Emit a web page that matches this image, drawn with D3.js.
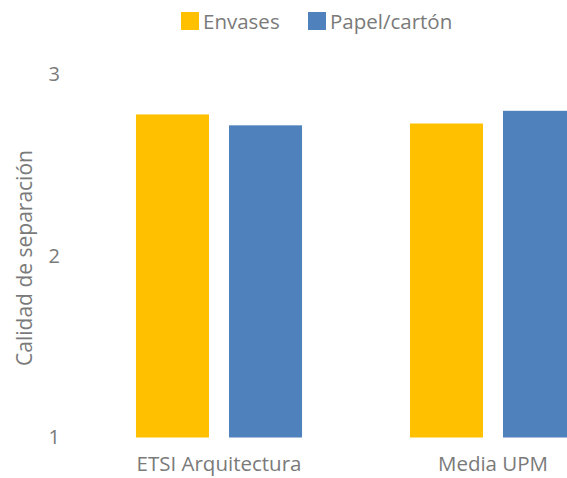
<!DOCTYPE html>
<html>
<head>
<meta charset="utf-8">
<script src="https://cdn.jsdelivr.net/npm/d3@7"></script>
<style>
  body { margin: 0; background: #fff; }
  svg { display: block; font-family: "Open Sans", sans-serif; }
</style>
</head>
<body>
<div id="chart"></div>
<script>
// data
const categories = ['ETSI Arquitectura', 'Media UPM'];
const series = ['Envases', 'Papel/cartón'];
const envases = [2.78, 2.73];
const papel = [2.72, 2.80];
const yTicks = [1, 2, 3];

const colors = ['#FFC000', '#4F81BD'];
const textColor = '#7a7a7a';

const width = 567, height = 478;

// plot area runs past the right edge, as in the reference
const x0 = d3.scaleBand()
    .domain(categories)
    .range([82, 630]);

const x1 = d3.scaleBand()
    .domain(series)
    .range([0, x0.bandwidth()])
    .paddingInner(0.215)
    .paddingOuter(0.58);

const y = d3.scaleLinear()
    .domain([1, 3])
    .range([437.5, 74.5]);

const svg = d3.select('#chart').append('svg')
    .attr('width', width)
    .attr('height', height);

// bars
const rows = categories.map((c, i) => ({ cat: c, values: [envases[i], papel[i]] }));

const groups = svg.selectAll('.cat')
    .data(rows)
    .enter()
    .append('g')
    .classed('cat', true)
    .attr('transform', d => `translate(${x0(d.cat)},0)`);

groups.selectAll('rect')
    .data(d => d.values.map((v, j) => ({ s: series[j], v, j })))
    .enter()
    .append('rect')
    .attr('x', d => x1(d.s))
    .attr('width', x1.bandwidth())
    .attr('y', d => y(d.v))
    .attr('height', d => y(1) - y(d.v))
    .attr('fill', d => colors[d.j]);

// y axis (labels only)
const yAxis = svg.append('g')
    .attr('transform', 'translate(60,0)')
    .call(d3.axisLeft(y).tickValues(yTicks).tickSize(0).tickPadding(0).tickFormat(d3.format('d')));
yAxis.select('.domain').remove();
yAxis.selectAll('text')
    .attr('fill', textColor)
    .style('font-size', '20px')
    .style('font-family', '"Open Sans", sans-serif');

// x axis (labels only)
const xAxis = svg.append('g')
    .attr('transform', `translate(0,${y(1)})`)
    .call(d3.axisBottom(x0).tickSize(0).tickPadding(19));
xAxis.select('.domain').remove();
xAxis.selectAll('text')
    .attr('fill', textColor)
    .style('font-size', '20.5px')
    .style('font-family', '"Open Sans", sans-serif');

// y axis title
svg.append('text')
    .attr('transform', 'translate(32,258) rotate(-90)')
    .attr('text-anchor', 'middle')
    .attr('fill', textColor)
    .style('font-size', '21px')
    .text('Calidad de separación');

// legend
const legendPos = [181, 308];
const legend = svg.selectAll('.legend-item')
    .data(series)
    .enter()
    .append('g')
    .classed('legend-item', true)
    .attr('transform', (d, i) => `translate(${legendPos[i]},12)`);

legend.append('rect')
    .attr('width', 18)
    .attr('height', 18)
    .attr('fill', (d, i) => colors[i]);

legend.append('text')
    .attr('x', 22)
    .attr('y', 16.5)
    .attr('fill', textColor)
    .style('font-size', '20.5px')
    .text(d => d);
</script>
</body>
</html>
